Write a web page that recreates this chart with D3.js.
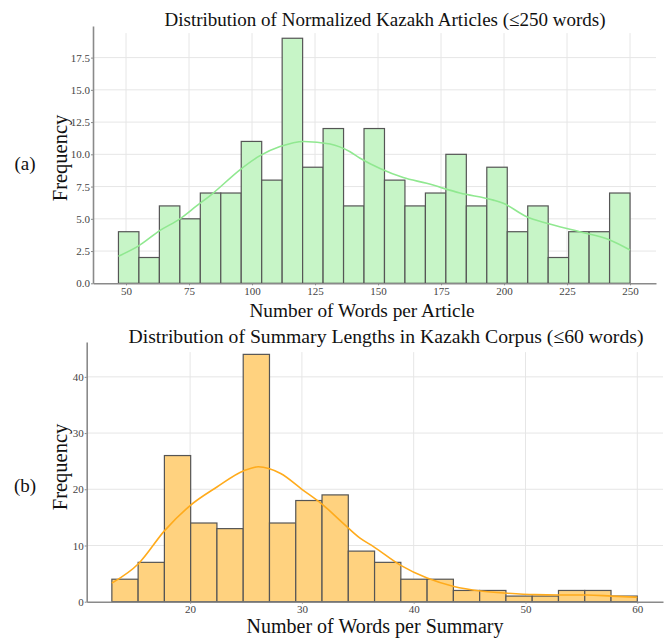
<!DOCTYPE html>
<html>
<head>
<meta charset="utf-8">
<script src="https://cdn.jsdelivr.net/npm/d3@7"></script>
<style>
  body { margin: 0; background: #fff; }
  svg { display: block; }
  text { font-family: "Liberation Serif", "Times New Roman", serif; }
</style>
</head>
<body>
<div id="chart"></div>
<script>
// (a) article lengths: histogram counts over [47, 250]
const articleRange = [47, 250];
const articleCounts = [4, 2, 6, 5, 7, 7, 11, 8, 19, 9, 12, 6, 12, 8, 6, 7, 10, 6, 9, 4, 6, 2, 4, 4, 7];
const articleKde = [
  [47, 2.1], [55, 2.9], [63.5, 4.1], [71.4, 5.0], [78, 6.0], [84.6, 7.0], [95.2, 8.8],
  [103.2, 9.9], [111.1, 10.6], [120.6, 11.0], [131, 10.8], [138.9, 10.2], [142.9, 9.7],
  [150.8, 8.9], [160, 8.2], [169.3, 7.75], [182.5, 7.0], [195.8, 6.45], [199.7, 6.2],
  [209, 5.16], [217, 4.65], [230, 4.0], [242, 3.36], [250, 2.58]
];
const articleXTicks = [50, 75, 100, 125, 150, 175, 200, 225, 250];
const articleYTicks = [0, 2.5, 5, 7.5, 10, 12.5, 15, 17.5];

// (b) summary lengths: histogram counts over [13, 60]
const summaryRange = [13, 60];
const summaryCounts = [4, 7, 26, 14, 13, 44, 14, 18, 19, 9, 7, 4, 4, 2, 2, 1, 1, 2, 2, 1];
const summaryKde = [
  [13, 3.3], [15.4, 6.8], [17.7, 12.6], [20, 17.1], [22.4, 20.4], [24.8, 23.3], [26.1, 24.0],
  [28.1, 22.8], [30, 20.0], [31.9, 17.2], [33.5, 14.3], [35.2, 11.3], [36.4, 9.8], [38.8, 6.5],
  [41.2, 4.2], [43.6, 2.7], [46, 1.9], [48.4, 1.5], [50.8, 1.25], [53, 1.2], [55.5, 1.2],
  [57.7, 1.0], [60, 0.8]
];
const summaryXTicks = [20, 30, 40, 50, 60];
const summaryYTicks = [0, 10, 20, 30, 40];

const W = 672, H = 644;
const svg = d3.select("#chart").append("svg")
    .attr("width", W)
    .attr("height", H);

svg.append("rect").attr("width", W).attr("height", H).attr("fill", "#fff");

function drawPanel(cfg) {
    const x = d3.scaleLinear().domain(cfg.xDomain).range(cfg.xRange);
    const y = d3.scaleLinear().domain(cfg.yDomain).range(cfg.yRange);
    const g = svg.append("g");

    // grid
    g.selectAll(".vgrid").data(cfg.xTicks).enter().append("line")
        .attr("x1", d => x(d)).attr("x2", d => x(d))
        .attr("y1", y(0)).attr("y2", y(cfg.gridTop))
        .attr("stroke", "#e6e6e6").attr("stroke-width", 1);
    g.selectAll(".hgrid").data(cfg.yTicks.slice(1)).enter().append("line")
        .attr("x1", cfg.xRange[0]).attr("x2", cfg.xRange[1])
        .attr("y1", d => y(d)).attr("y2", d => y(d))
        .attr("stroke", "#e6e6e6").attr("stroke-width", 1);

    // bars
    const n = cfg.counts.length;
    const lo = cfg.range[0], step = (cfg.range[1] - cfg.range[0]) / n;
    g.selectAll(".bar").data(cfg.counts).enter().append("rect")
        .attr("x", (d, i) => x(lo + i * step))
        .attr("width", (d, i) => x(lo + (i + 1) * step) - x(lo + i * step))
        .attr("y", d => y(d))
        .attr("height", d => y(0) - y(d))
        .attr("fill", cfg.fill)
        .attr("stroke", "#555")
        .attr("stroke-width", 1.2);

    // kde line
    const line = d3.line()
        .x(d => x(d[0]))
        .y(d => y(d[1]))
        .curve(d3.curveMonotoneX);
    g.append("path")
        .datum(cfg.kde)
        .attr("d", line)
        .attr("fill", "none")
        .attr("stroke", cfg.lineColor)
        .attr("stroke-width", 1.6);

    // axes
    const xAxis = g.append("g")
        .attr("transform", `translate(0,${y(0)})`)
        .call(d3.axisBottom(x).tickValues(cfg.xTicks).tickSize(2).tickPadding(2).tickSizeOuter(0));
    const yAxis = g.append("g")
        .attr("transform", `translate(${cfg.xRange[0]},0)`)
        .call(d3.axisLeft(y).tickValues(cfg.yTicks).tickFormat(cfg.yFormat).tickSize(2).tickPadding(1).tickSizeOuter(0));

    [xAxis, yAxis].forEach(a => {
        a.select(".domain").attr("stroke", "#8a8a8a").attr("stroke-width", 1.6);
        a.selectAll(".tick line").attr("stroke", "#8a8a8a");
        a.selectAll(".tick text")
            .attr("fill", "#444")
            .attr("font-size", "11px");
    });

    // texts
    svg.append("text")
        .attr("x", cfg.titlePos[0]).attr("y", cfg.titlePos[1])
        .attr("text-anchor", "middle")
        .attr("font-size", cfg.titleSize)
        .attr("fill", "#111")
        .text(cfg.title);
    svg.append("text")
        .attr("x", cfg.xLabelPos[0]).attr("y", cfg.xLabelPos[1])
        .attr("text-anchor", "middle")
        .attr("font-size", cfg.xLabelSize)
        .attr("fill", "#111")
        .text(cfg.xLabel);
    svg.append("text")
        .attr("transform", `translate(${cfg.yLabelPos[0]},${cfg.yLabelPos[1]}) rotate(-90)`)
        .attr("text-anchor", "middle")
        .attr("dominant-baseline", "central")
        .attr("font-size", "20.5px")
        .attr("fill", "#111")
        .text("Frequency");
    svg.append("text")
        .attr("x", 25).attr("y", cfg.tagY)
        .attr("text-anchor", "middle")
        .attr("dominant-baseline", "central")
        .attr("font-size", "19px")
        .attr("fill", "#111")
        .text(cfg.tag);
}

drawPanel({
    xDomain: [36.9, 260.3], xRange: [93, 656],
    yDomain: [0, 19.95], yRange: [283.3, 26],
    gridTop: 19.4,
    range: articleRange, counts: articleCounts, kde: articleKde,
    xTicks: articleXTicks, yTicks: articleYTicks, yFormat: d3.format(".1f"),
    fill: "#c7f5c7", lineColor: "#90e890",
    title: "Distribution of Normalized Kazakh Articles (\u2264250 words)",
    titlePos: [385, 26], titleSize: "19px",
    xLabel: "Number of Words per Article", xLabelPos: [362, 317], xLabelSize: "19.3px",
    yLabelPos: [60, 158],
    tag: "(a)", tagY: 163
});

drawPanel({
    xDomain: [10.75, 62.3], xRange: [86.7, 663],
    yDomain: [0, 46.2], yRange: [601.7, 342],
    gridTop: 44.4,
    range: summaryRange, counts: summaryCounts, kde: summaryKde,
    xTicks: summaryXTicks, yTicks: summaryYTicks, yFormat: d3.format("d"),
    fill: "#ffd27f", lineColor: "#ffab1c",
    title: "Distribution of Summary Lengths in Kazakh Corpus (\u226460 words)",
    titlePos: [386, 343], titleSize: "19.7px",
    xLabel: "Number of Words per Summary", xLabelPos: [375, 633], xLabelSize: "20px",
    yLabelPos: [60, 467],
    tag: "(b)", tagY: 485
});
</script>
</body>
</html>
